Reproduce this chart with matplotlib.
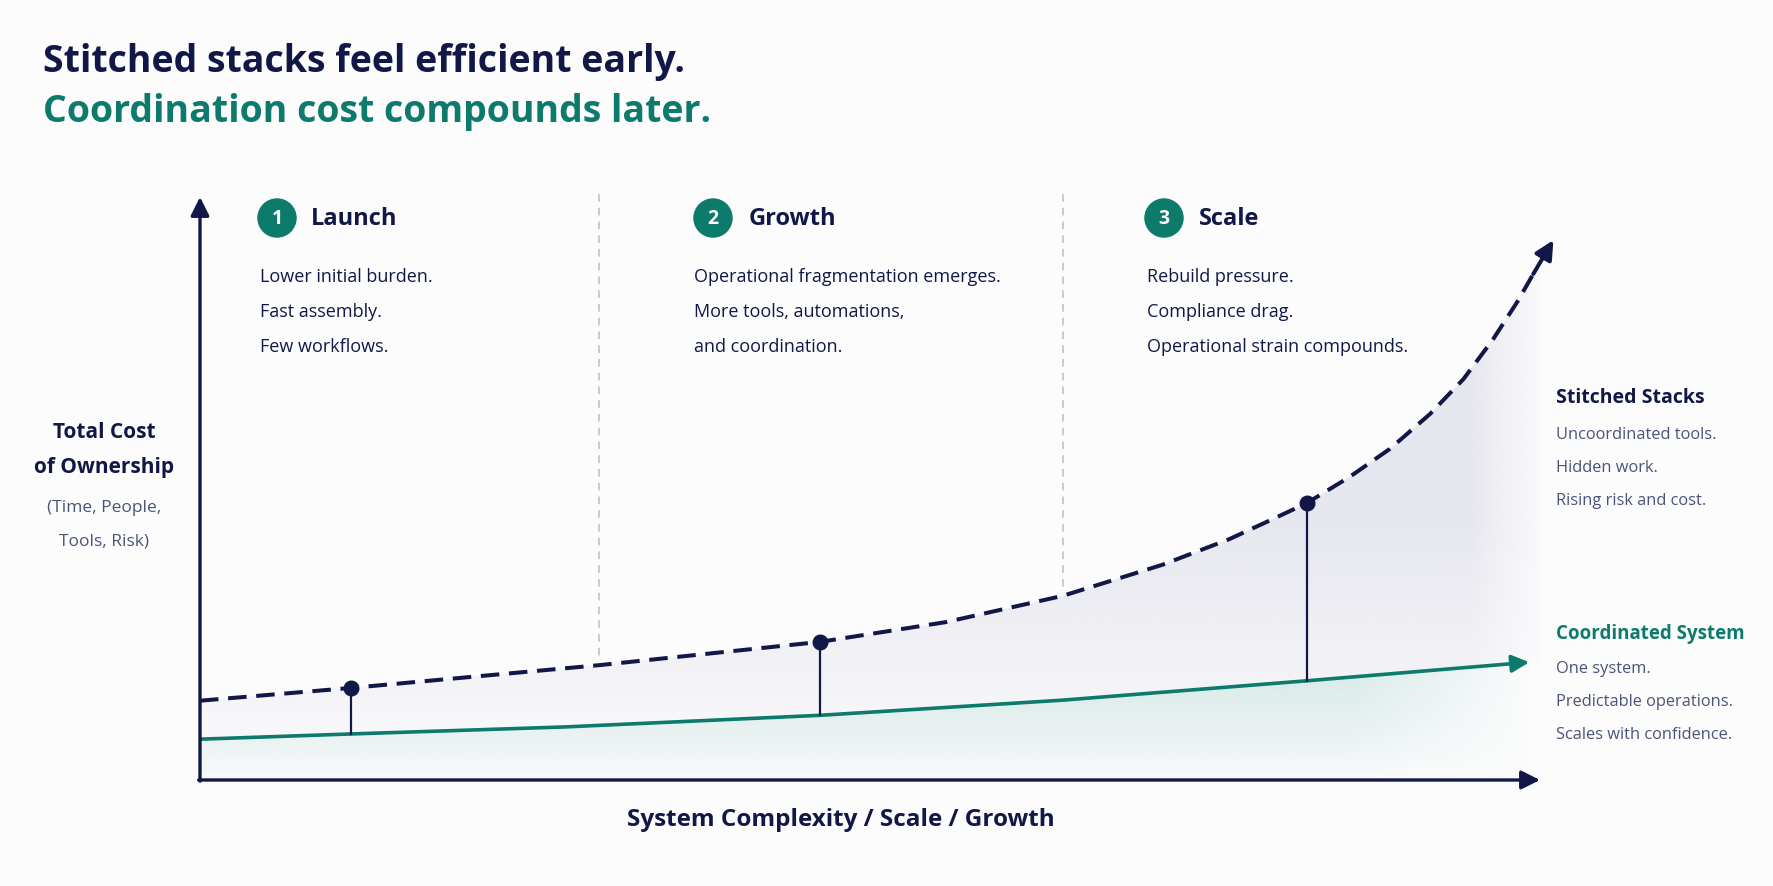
import numpy as np
import matplotlib.pyplot as plt
from matplotlib.patches import Polygon
from matplotlib.colors import to_rgb

plt.rcParams['font.family'] = ['Open Sans', 'DejaVu Sans']

W, H = 1774, 887
NAVY = '#111847'
TEAL = '#0c7b6b'
SLATE = '#4b5478'
DIV = '#b9bdcc'
BG = '#fcfcfd'

# values (complexity index 0-100, cost index 0-100)
stitched_x = [0, 11.3, 29.8, 46.3, 55.7, 64.4, 71.8, 76.8, 80.1, 82.6, 85.8, 88.8,
              91.8, 94.3, 96.5, 98.3, 99.5, 101.0]
stitched_y = [13.6, 15.8, 19.7, 23.7, 27.1, 31.6, 36.9, 41.3, 44.8, 47.5, 52.0, 56.8,
              62.8, 68.8, 75.6, 82.0, 86.8, 92.6]
coord_x = [0, 11.3, 27.2, 46.3, 64.4, 82.5, 99.2]
coord_y = [7.0, 7.9, 9.1, 11.1, 13.7, 17.0, 20.2]

milestone_x = [11.3, 46.3, 82.6]
milestone_top = [15.8, 23.7, 47.5]
milestone_base = [7.9, 11.1, 17.0]

divider_x = [29.8, 64.4]
divider_end = [20.6, 32.2]

stages = ['Launch', 'Growth', 'Scale']
stage_notes = [
    ['Lower initial burden.', 'Fast assembly.', 'Few workflows.'],
    ['Operational fragmentation emerges.', 'More tools, automations,', 'and coordination.'],
    ['Rebuild pressure.', 'Compliance drag.', 'Operational strain compounds.'],
]
stitched_notes = ['Uncoordinated tools.', 'Hidden work.', 'Rising risk and cost.']
coord_notes = ['One system.', 'Predictable operations.', 'Scales with confidence.']


def fx(px):
    return px / W


def fy(py):
    return 1 - py / H


fig = plt.figure(figsize=(W / 100, H / 100), dpi=100, facecolor=BG)
ax = fig.add_axes([fx(200), fy(781), (1540 - 200) / W, (781 - 198) / H])
ax.set_xlim(0, 100)
ax.set_ylim(0, 100)
ax.axis('off')

# --- soft fills ---------------------------------------------------------
gx = np.linspace(0, 105, 420)
gy = np.linspace(0, 100, 300)
GX, GY = np.meshgrid(gx, gy)

lav = np.zeros(GX.shape + (4,))
lav[..., :3] = to_rgb('#d9d9e6')
right_fade = np.clip((101.5 - GX) / 6.5, 0, 1) ** 1.3
lav[..., 3] = 0.6 * np.clip((GY - 4) / 40, 0.15, 1) ** 0.8 * right_fade
im1 = ax.imshow(lav, extent=[0, 105, 0, 100], origin='lower', aspect='auto',
                zorder=1, interpolation='bilinear')
lav_poly = list(zip(stitched_x, stitched_y)) + [(104.5, stitched_y[-1]), (104.5, coord_y[-1])] \
    + list(zip(coord_x[::-1], coord_y[::-1]))
p1 = Polygon(lav_poly, closed=True, fc='none', ec='none')
ax.add_patch(p1)
im1.set_clip_path(p1)

teal = np.zeros(GX.shape + (4,))
teal[..., :3] = to_rgb('#cfe5e1')
teal[..., 3] = 0.8 * np.clip(GY / 20, 0, 1) ** 0.7 * np.clip((100 - GX) / 14, 0, 1)
im2 = ax.imshow(teal, extent=[0, 105, 0, 100], origin='lower', aspect='auto',
                zorder=1, interpolation='bilinear')
teal_poly = list(zip(coord_x, coord_y)) + [(coord_x[-1], 0.6), (0, 0.6)]
p2 = Polygon(teal_poly, closed=True, fc='none', ec='none')
ax.add_patch(p2)
im2.set_clip_path(p2)

# --- dividers -----------------------------------------------------------
for x, y_end in zip(divider_x, divider_end):
    ax.plot([x, x], [100.5, y_end], color=DIV, lw=1.1, ls=(0, (5, 4)), zorder=2, clip_on=False)

# --- curves -------------------------------------------------------------
ax.plot(coord_x[:-1], coord_y[:-1], color=TEAL, lw=2.6, zorder=4, solid_capstyle='butt')
ax.annotate('', xy=(coord_x[-1], coord_y[-1]), xytext=(coord_x[-2], coord_y[-2]),
            arrowprops=dict(arrowstyle='-|>', color=TEAL, lw=2.6, mutation_scale=26,
                            shrinkA=0, shrinkB=0), zorder=4, annotation_clip=False)

ax.plot(stitched_x[:-1], stitched_y[:-1], color=NAVY, lw=2.9, ls=(0, (4.6, 2.4)),
        zorder=5, clip_on=False)
ax.annotate('', xy=(stitched_x[-1], stitched_y[-1]), xytext=(stitched_x[-2], stitched_y[-2]),
            arrowprops=dict(arrowstyle='-|>', color=NAVY, lw=2.9, mutation_scale=28,
                            shrinkA=0, shrinkB=0), zorder=5, annotation_clip=False)

for x, top, base in zip(milestone_x, milestone_top, milestone_base):
    ax.plot([x, x], [base, top], color=NAVY, lw=1.6, zorder=5)
ax.plot(milestone_x, milestone_top, 'o', color=NAVY, ms=10.5, zorder=6)

# --- axes arrows --------------------------------------------------------
ax.annotate('', xy=(100, 0), xytext=(-0.1, 0),
            arrowprops=dict(arrowstyle='-|>', color=NAVY, lw=2.4, mutation_scale=28,
                            shrinkA=0, shrinkB=0), annotation_clip=False, zorder=7)
ax.annotate('', xy=(0, 100), xytext=(0, -0.2),
            arrowprops=dict(arrowstyle='-|>', color=NAVY, lw=2.4, mutation_scale=28,
                            shrinkA=0, shrinkB=0), annotation_clip=False, zorder=7)

# --- titles -------------------------------------------------------------
fig.text(fx(43), fy(62), 'Stitched stacks feel efficient early.', fontsize=27,
         fontweight='bold', color=NAVY, va='center')
fig.text(fx(43), fy(112), 'Coordination cost compounds later.', fontsize=27,
         fontweight='bold', color=TEAL, va='center')

# --- stage headers ------------------------------------------------------
circle_px = [277, 713, 1164]
header_px = [311, 749, 1199]
body_px = [260, 694, 1147]
for i, name in enumerate(stages):
    fig.text(fx(circle_px[i]), fy(219), str(i + 1), fontsize=14, fontweight='bold',
             color='white', ha='center', va='center',
             bbox=dict(boxstyle='circle,pad=0.5', fc=TEAL, ec='none'))
    fig.text(fx(header_px[i]), fy(219), name, fontsize=17, fontweight='bold',
             color=NAVY, va='center')
    for j, line in enumerate(stage_notes[i]):
        fig.text(fx(body_px[i]), fy(277 + 35 * j), line, fontsize=13, color=NAVY,
                 va='center')

# --- y label ------------------------------------------------------------
fig.text(fx(104), fy(433), 'Total Cost', fontsize=15, fontweight='bold', color=NAVY,
         ha='center', va='center')
fig.text(fx(104), fy(468), 'of Ownership', fontsize=15, fontweight='bold', color=NAVY,
         ha='center', va='center')
fig.text(fx(104), fy(508), '(Time, People,', fontsize=12.5, color=SLATE, ha='center', va='center')
fig.text(fx(104), fy(541), 'Tools, Risk)', fontsize=12.5, color=SLATE, ha='center', va='center')

# --- x label ------------------------------------------------------------
fig.text(fx(841), fy(820), 'System Complexity / Scale / Growth', fontsize=17.5,
         fontweight='bold', color=NAVY, ha='center', va='center')

# --- right-hand legend --------------------------------------------------
fig.text(fx(1556), fy(398), 'Stitched Stacks', fontsize=14, fontweight='bold',
         color=NAVY, va='center')
for j, line in enumerate(stitched_notes):
    fig.text(fx(1556), fy(435 + 33 * j), line, fontsize=11.8, color=SLATE, va='center')

fig.text(fx(1556), fy(634), 'Coordinated System', fontsize=13.5, fontweight='bold',
         color=TEAL, va='center')
for j, line in enumerate(coord_notes):
    fig.text(fx(1556), fy(669 + 33 * j), line, fontsize=11.8, color=SLATE, va='center')

fig.savefig('out.png', dpi=100, facecolor=BG)
